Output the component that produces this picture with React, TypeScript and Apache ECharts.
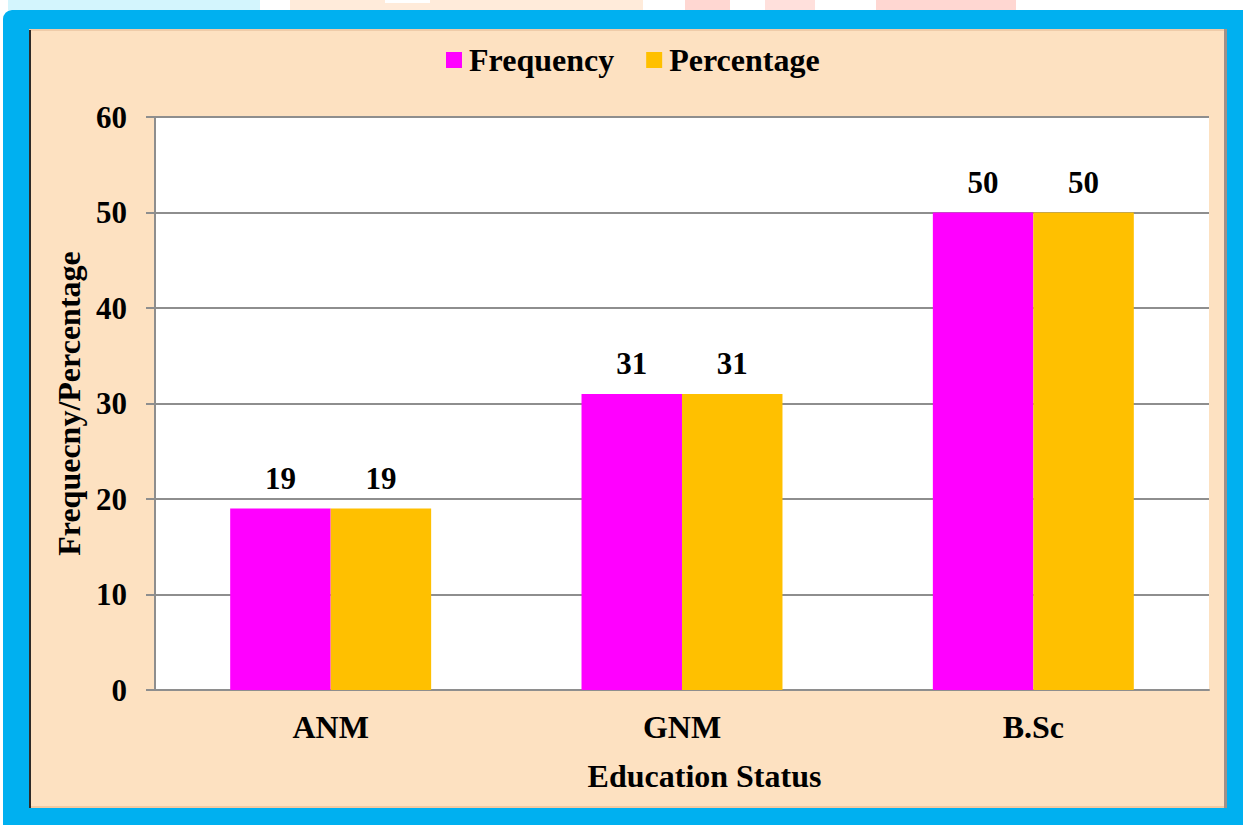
import React, { useEffect, useRef } from "react";
import * as echarts from "echarts";

// Education status of respondents
const categories = ["ANM", "GNM", "B.Sc"];
const frequency = [19, 31, 50];
const percentage = [19, 31, 50];
const seriesNames = ["Frequency", "Percentage"];
const yTitle = "Frequecny/Percentage";
const xTitle = "Education Status";

const FONT = "'Liberation Serif', 'Times New Roman', serif";
const W = 1243;
const H = 825;

export default function App() {
  const ref = useRef<HTMLDivElement>(null);

  useEffect(() => {
    if (!ref.current) return;
    const chart = echarts.init(ref.current, null, { renderer: "svg" });

    const textBase = {
      fontFamily: FONT,
      fontWeight: "bold" as const,
      color: "#000",
    };

    chart.setOption({
      animation: false,
      backgroundColor: "#ffffff",
      graphic: [
        // faint strip along the top edge
        { type: "rect", z: -100, shape: { x: 8, y: 0, width: 252, height: 10 }, style: { fill: "#D3F5FD" } },
        { type: "rect", z: -100, shape: { x: 290, y: 0, width: 353, height: 10 }, style: { fill: "#FFEBDA" } },
        { type: "rect", z: -99, shape: { x: 385, y: 0, width: 45, height: 3 }, style: { fill: "#FFFFFF" } },
        { type: "rect", z: -100, shape: { x: 685, y: 0, width: 45, height: 10 }, style: { fill: "#FFD7D2" } },
        { type: "rect", z: -100, shape: { x: 765, y: 0, width: 50, height: 10 }, style: { fill: "#FFE0DC" } },
        { type: "rect", z: -100, shape: { x: 876, y: 0, width: 140, height: 10 }, style: { fill: "#FFD7D2" } },
        // blue frame
        {
          type: "rect",
          z: -90,
          shape: { x: 3, y: 10, width: W - 3, height: H - 10, r: [9, 0, 0, 0] },
          style: { fill: "#00B0F0" },
        },
        // beige panel with bevelled edges
        {
          type: "rect",
          z: -80,
          shape: { x: 29, y: 29, width: 1198, height: 779 },
          style: { fill: "#FDE1C1" },
        },
        { type: "rect", z: -79, shape: { x: 29, y: 29, width: 1198, height: 2 }, style: { fill: "#EFCBA8" } },
        { type: "rect", z: -79, shape: { x: 29, y: 806, width: 1198, height: 2 }, style: { fill: "#F3C9A0" } },
        { type: "rect", z: -78, shape: { x: 29, y: 30, width: 2, height: 778 }, style: { fill: "#2E2A28" } },
        { type: "rect", z: -78, shape: { x: 1224, y: 29, width: 3, height: 779 }, style: { fill: "#A09088" } },
      ],
      legend: {
        data: seriesNames,
        left: 446,
        top: 44,
        padding: 0,
        icon: "rect",
        itemWidth: 16,
        itemHeight: 16,
        itemGap: 32,
        textStyle: { ...textBase, fontSize: 32, padding: [0, 0, 0, 2] },
      },
      grid: {
        left: 155,
        right: W - 1209,
        top: 117,
        bottom: H - 690,
        show: true,
        backgroundColor: "#FFFFFF",
        borderWidth: 0,
      },
      xAxis: {
        type: "category",
        data: categories,
        name: xTitle,
        nameLocation: "middle",
        nameGap: 70,
        nameTextStyle: { ...textBase, fontSize: 32, padding: [0, 0, 0, 45] },
        axisLine: { show: true, lineStyle: { color: "#8E8E8E", width: 2 } },
        axisTick: { show: false },
        axisLabel: { ...textBase, fontSize: 32, margin: 21 },
      },
      yAxis: {
        type: "value",
        min: 0,
        max: 60,
        interval: 10,
        name: yTitle,
        nameLocation: "middle",
        nameGap: 68,
        nameTextStyle: { ...textBase, fontSize: 32 },
        axisLine: { show: true, lineStyle: { color: "#8E8E8E", width: 2 } },
        axisTick: { show: true, length: 9, lineStyle: { color: "#8E8E8E", width: 2 } },
        axisLabel: { ...textBase, fontSize: 31, margin: 28 },
        splitLine: { show: true, lineStyle: { color: "#8E8E8E", width: 2 } },
      },
      series: [
        {
          name: seriesNames[0],
          type: "bar",
          data: frequency,
          barWidth: "28.6%",
          barGap: "0%",
          itemStyle: { color: "#FF00FF" },
          label: { show: true, position: "top", distance: 15, ...textBase, fontSize: 31 },
        },
        {
          name: seriesNames[1],
          type: "bar",
          data: percentage,
          barWidth: "28.6%",
          barGap: "0%",
          itemStyle: { color: "#FFC000" },
          label: { show: true, position: "top", distance: 15, ...textBase, fontSize: 31 },
        },
      ],
    });

    return () => chart.dispose();
  }, []);

  return (
    <div
      ref={ref}
      style={{ position: "absolute", left: 0, top: 0, width: W, height: H }}
    />
  );
}
